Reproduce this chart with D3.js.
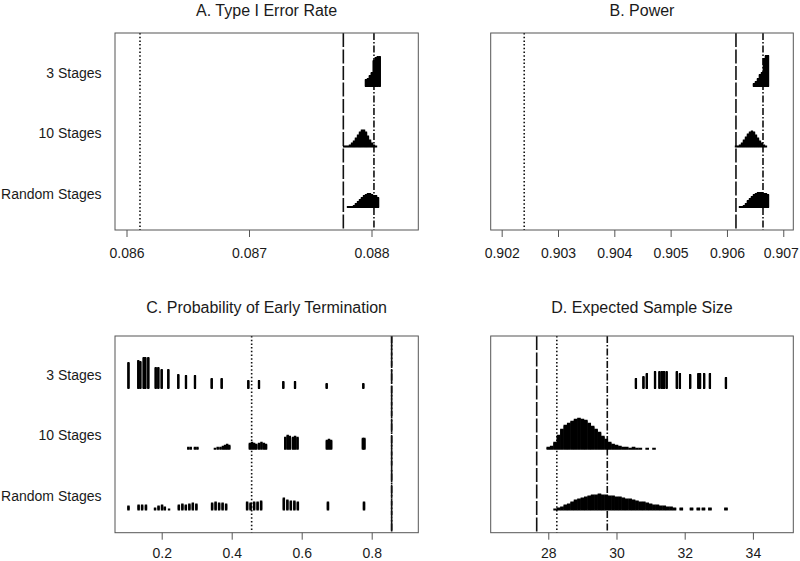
<!DOCTYPE html>
<html><head><meta charset="utf-8">
<script src="https://cdn.jsdelivr.net/npm/d3@7"></script>
<style>body{margin:0;background:#fff} text{font-family:"Liberation Sans",Arial,sans-serif;fill:#1a1a1a}</style>
</head><body><svg id="c" width="800" height="561"></svg>
<script>
// ---------- data ----------
const groups = ["3 Stages", "10 Stages", "Random Stages"];

// A. Type I Error Rate : [value, stacked count]
const aTicks = [0.086, 0.087, 0.088];
const aRefs = [0.08611, 0.08777, 0.08802]; // dotted, dashed, dot-dash
const a3 = [[0.087955,7],[0.087971,8],[0.087987,11],[0.088003,14],[0.088019,26],[0.088035,29],[0.088051,30],[0.088067,30]];
const a10 = [[0.087776,1],[0.087792,1],[0.087808,1],[0.087824,2],[0.087841,4],[0.087857,6],[0.087873,9],[0.087890,12],[0.087906,15],[0.087922,17],[0.087939,17],[0.087955,15],[0.087971,11],[0.087988,7],[0.088004,4],[0.088020,2],[0.088037,1]];
const aRand = [[0.087808,1],[0.087824,1],[0.087841,1],[0.087857,2],[0.087873,4],[0.087890,6],[0.087906,8],[0.087922,10],[0.087939,12],[0.087955,13],[0.087971,14],[0.087988,14],[0.088004,13],[0.088020,12],[0.088037,12],[0.088053,10]];

// B. Power
const bTicks = [0.902, 0.903, 0.904, 0.905, 0.906, 0.907];
const bRefs = [0.90240, 0.90616, 0.90664];
const b3 = [[0.906480,3],[0.906515,5],[0.906551,8],[0.906586,12],[0.906622,14],[0.906657,28],[0.906693,31],[0.906728,31]];
const b10 = [[0.906160,1],[0.906196,1],[0.906231,2],[0.906267,4],[0.906302,7],[0.906338,10],[0.906373,13],[0.906409,15],[0.906444,16],[0.906480,15],[0.906515,12],[0.906551,9],[0.906586,6],[0.906622,4],[0.906657,2],[0.906693,1]];
const bRand = [[0.906231,1],[0.906267,1],[0.906302,2],[0.906338,4],[0.906373,7],[0.906409,9],[0.906444,11],[0.906480,13],[0.906515,14],[0.906551,15],[0.906586,15],[0.906622,15],[0.906657,14],[0.906693,14],[0.906728,13]];

// C. Probability of Early Termination
const cTicks = [0.2, 0.4, 0.6, 0.8];
const cRefs = [0.457, 0.857, 0.857];
const c3 = [[0.105,26],[0.1331,28],[0.1389,27],[0.1486,31],[0.1531,31],[0.1617,31],[0.1829,21],[0.1903,21],[0.2000,19],[0.2189,19],[0.2474,14],[0.2694,13],[0.2951,13],[0.3429,10],[0.3714,10],[0.4474,8],[0.4780,8],[0.5474,7],[0.5809,7],[0.6714,5],[0.7760,5]];
const c10 = [[0.276,2],[0.283,2],[0.295,2],[0.302,2],[0.352,1],[0.360,2],[0.368,2],[0.375,3],[0.381,4],[0.387,5],[0.393,4],[0.452,6],[0.458,7],[0.464,6],[0.470,5],[0.478,6],[0.485,7],[0.492,6],[0.498,5],[0.553,12],[0.560,14],[0.566,13],[0.575,12],[0.581,13],[0.588,12],[0.672,9],[0.678,10],[0.684,9],[0.775,11],[0.779,11]];
const cRand = [[0.105,4],[0.134,5],[0.144,5],[0.155,5],[0.181,2],[0.191,4],[0.201,5],[0.209,3],[0.221,1],[0.249,5],[0.259,6],[0.269,5],[0.279,6],[0.289,7],[0.299,6],[0.344,7],[0.354,8],[0.364,7],[0.374,7],[0.384,6],[0.444,8],[0.454,7],[0.464,8],[0.474,8],[0.484,9],[0.549,12],[0.559,10],[0.569,9],[0.579,9],[0.589,8],[0.675,8],[0.778,8]];

// D. Expected Sample Size
const dTicks = [28, 30, 32, 34];
const dRefs = [28.25, 27.66, 29.73];
const d3s = [[30.57,10],[30.79,12],[30.89,15],[31.13,17],[31.26,17],[31.33,17],[31.39,17],[31.47,17],[31.77,17],[31.86,15],[32.16,14],[32.40,15],[32.45,15],[32.57,15],[32.74,15],[33.21,11]];
const d10 = [[28.0,2],[28.1,3],[28.2,7],[28.3,14],[28.4,20],[28.5,24],[28.6,26],[28.7,28],[28.8,30],[28.9,31],[29.0,30],[29.1,29],[29.2,26],[29.3,23],[29.4,20],[29.5,17],[29.6,13],[29.7,10],[29.8,7],[29.9,5],[30.0,4],[30.1,3],[30.2,2],[30.3,2],[30.4,1],[30.5,2],[30.6,1],[30.7,1],[30.9,1],[31.1,1]];
const dRand = [[28.2,1],[28.3,2],[28.4,3],[28.5,5],[28.6,6],[28.7,8],[28.8,10],[28.9,11],[29.0,12],[29.1,13],[29.2,14],[29.3,15],[29.4,15],[29.5,16],[29.6,15],[29.7,15],[29.8,14],[29.9,14],[30.0,13],[30.1,13],[30.2,12],[30.3,11],[30.4,11],[30.5,10],[30.6,9],[30.7,8],[30.8,8],[30.9,7],[31.0,6],[31.1,5],[31.2,5],[31.3,4],[31.4,4],[31.5,3],[31.6,3],[31.7,2],[31.9,2],[32.2,2],[32.4,2],[32.55,2],[32.74,2],[33.21,2]];

// ---------- layout ----------
const svg = d3.select("#c");
const dashes = ["1.5,2.2", "14,2.5", "7,2,1.5,2"];
const panels = [
  {title:"A. Type I Error Rate", x0:115, x1:418.3, y0:33, y1:230, ty:15.5, pad:11, domain:[0.085906,0.088382], ticks:aTicks, fmt:d3.format(".3f"), rows:[a3,a10,aRand], refs:aRefs, base:[87,208], labels:true, w:[2.3,2.3,2.3]},
  {title:"B. Power", x0:490.7, x1:793.3, y0:33, y1:230, ty:15.5, pad:11, domain:[0.901805,0.907178], ticks:bTicks, fmt:d3.format(".3f"), rows:[b3,b10,bRand], refs:bRefs, base:[87,208], labels:false, w:[2.3,2.3,2.3]},
  {title:"C. Probability of Early Termination", x0:115, x1:418.3, y0:336, y1:532.7, ty:313, pad:8.5, domain:[0.06657,0.93314], ticks:cTicks, fmt:d3.format(".1f"), rows:[c3,c10,cRand], refs:cRefs, base:[389,510.5], labels:true, w:[2.2,2.4,2.4]},
  {title:"D. Expected Sample Size", x0:490.7, x1:793.3, y0:336, y1:532.7, ty:313, pad:8.5, domain:[26.311,35.185], ticks:dTicks, fmt:d3.format("d"), rows:[d3s,d10,dRand], refs:dRefs, base:[389,510.5], labels:false, w:[2.2,3.6,3.6]}
];

panels.forEach(p => {
  const x = d3.scaleLinear().domain(p.domain).range([p.x0, p.x1]);
  const y = d3.scalePoint().domain(groups).range(p.base);
  const g = svg.append("g");

  // title
  g.append("text").attr("x", (p.x0 + p.x1) / 2).attr("y", p.ty)
    .attr("text-anchor", "middle").style("font-size", "16px").text(p.title);

  // reference lines
  p.refs.forEach((v, i) => {
    g.append("line").attr("x1", x(v)).attr("x2", x(v)).attr("y1", p.y0).attr("y2", p.y1)
      .attr("stroke", "#111").attr("stroke-width", 1.6).attr("stroke-dasharray", dashes[i]);
  });

  // stacked points
  p.rows.forEach((row, gi) => {
    const base = y(groups[gi]);
    const pts = [];
    row.forEach(([v, n]) => { for (let k = 0; k < n; k++) pts.push([v, k]); });
    g.append("g").selectAll("rect").data(pts).join("rect")
      .attr("x", d => x(d[0]) - p.w[gi] / 2)
      .attr("y", d => base - 2 - d[1])
      .attr("width", p.w[gi]).attr("height", 2)
      .attr("fill", "#000");
  });

  // box
  g.append("rect").attr("x", p.x0).attr("y", p.y0).attr("width", p.x1 - p.x0).attr("height", p.y1 - p.y0)
    .attr("fill", "none").attr("stroke", "#555").attr("stroke-width", 1);

  // x axis
  const ax = g.append("g").attr("transform", `translate(0,${p.y1})`)
    .call(d3.axisBottom(x).tickValues(p.ticks).tickFormat(p.fmt).tickSize(7).tickPadding(p.pad));
  ax.select(".domain").remove();
  ax.selectAll(".tick line").attr("stroke", "#555");
  ax.selectAll(".tick text").style("font-size", "14px").style("font-family", '"Liberation Sans",Arial,sans-serif').attr("fill", "#1a1a1a");
  ax.selectAll(".tick text").filter(function () {
    return this.getBoundingClientRect().right > 799;
  }).attr("dx", -2.5);

  // y labels
  if (p.labels) {
    groups.forEach(gn => {
      g.append("text").attr("x", 101.5).attr("y", y(gn) - 9.5)
        .attr("text-anchor", "end").style("font-size", "14px").text(gn);
    });
  }
});
</script>
</body></html>
